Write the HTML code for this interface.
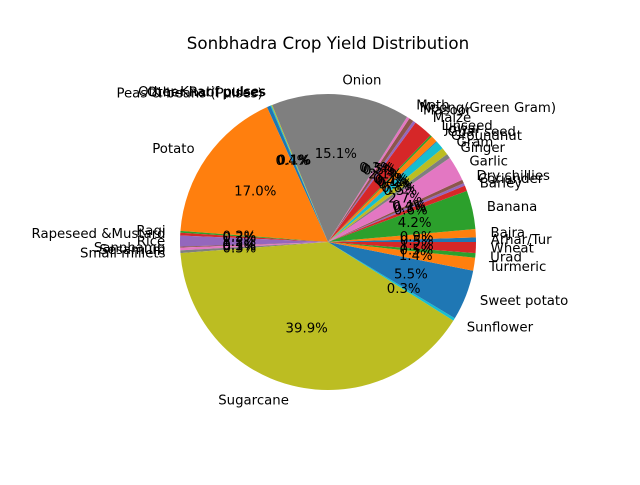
<!DOCTYPE html>
<html><head><meta charset="utf-8"><style>
body{margin:0;background:#fff}
svg text{font-family:"DejaVu Sans","Liberation Sans",sans-serif}
</style></head><body>
<svg id="chart" width="640" height="480" viewBox="0 0 640 480">
<rect width="640" height="480" fill="#fff"/>
<text x="328" y="49" text-anchor="middle" font-size="16.7" fill="#000">Sonbhadra Crop Yield Distribution</text>
<g id="slices"></g>
<g id="labels"></g>
</svg>
<script>
const crops = ["Arhar/Tur","Bajra","Banana","Barley","Coriander","Dry chillies","Garlic","Ginger","Gram","Groundnut","Guar seed","Jowar","Linseed","Maize","Masoor","Moong(Green Gram)","Moth","Onion","Other Kharif pulses","Other Rabi pulses","Peas & beans (Pulses)","Potato","Ragi","Rapeseed &Mustard","Rice","Sannhamp","Sesamum","Small millets","Sugarcane","Sunflower","Sweet potato","Turmeric","Urad","Wheat"];
const shares = [0.5,0.9,4.2,0.6,0.3,0.4,2.7,0.5,0.8,0.9,0.1,0.7,0.2,2.1,0.3,0.5,0.3,15.1,0.1,0.1,0.4,17.0,0.2,0.3,1.2,0.1,0.3,0.3,39.8,0.3,5.5,1.4,0.5,1.2];
const palette = ["#1f77b4","#ff7f0e","#2ca02c","#d62728","#9467bd","#8c564b","#e377c2","#7f7f7f","#bcbd22","#17becf"];
const cx=328, cy=242, R=148;
const NS="http://www.w3.org/2000/svg";
const total = shares.reduce((a,b)=>a+b,0);
const gS=document.getElementById('slices'), gL=document.getElementById('labels');
let a0=0;
function pt(a,r){return [cx+r*Math.cos(a*Math.PI/180), cy-r*Math.sin(a*Math.PI/180)];}
shares.forEach((v,i)=>{
  const sweep=v/total*360, a1=a0+sweep;
  const p0=pt(a0,R), p1=pt(a1,R);
  const path=document.createElementNS(NS,'path');
  path.setAttribute('d',`M${cx},${cy} L${p0[0]},${p0[1]} A${R},${R} 0 ${sweep>180?1:0} 0 ${p1[0]},${p1[1]} Z`);
  path.setAttribute('fill',palette[i%10]);
  
  
  gS.appendChild(path);
  const mid=(a0+a1)/2;
  const lp=pt(mid,R*1.1);
  const t=document.createElementNS(NS,'text');
  t.setAttribute('x',lp[0]); t.setAttribute('y',lp[1]+4.5);
  t.setAttribute('font-size','13.3');
  t.setAttribute('text-anchor',Math.cos(mid*Math.PI/180)>=0?'start':'end');
  t.textContent=crops[i];
  
  
  gL.appendChild(t);
  const pp=pt(mid,R*0.6);
  const u=document.createElementNS(NS,'text');
  u.setAttribute('x',pp[0]); u.setAttribute('y',pp[1]+4.5);
  u.setAttribute('font-size','13.3');
  u.setAttribute('text-anchor','middle');
  u.textContent=(v/total*100).toFixed(1)+'%';
  
  
  gL.appendChild(u);
  a0=a1;
});
</script>
</body></html>
